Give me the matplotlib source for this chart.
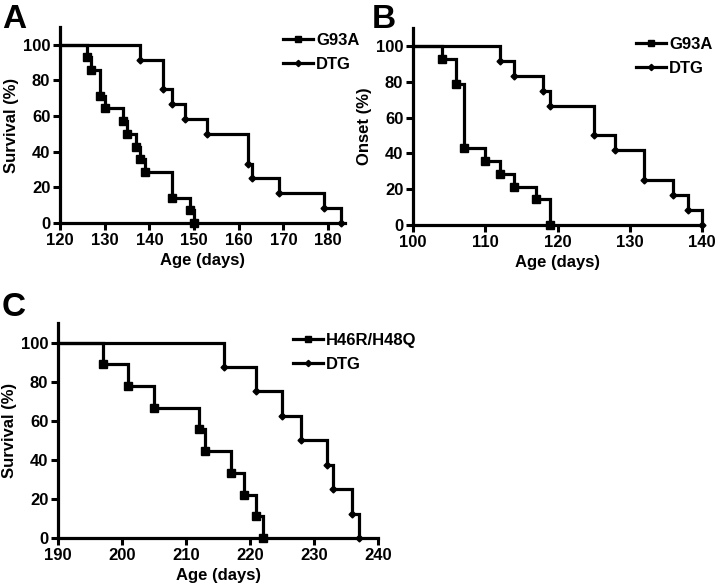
import matplotlib
matplotlib.use("Agg")
import matplotlib.pyplot as plt
from matplotlib.lines import Line2D

plt.rcParams['font.family'] = ['Liberation Sans', 'DejaVu Sans']
plt.rcParams['font.weight'] = 'bold'

# Panel A: survival, G93A vs DTG
a_g93a_days = [126, 127, 129, 130, 134, 135, 137, 138, 139, 145, 149, 150]
a_g93a_surv = [92.9, 85.7, 71.4, 64.3, 57.1, 50.0, 42.9, 35.7, 28.6, 14.3, 7.1, 0.0]
a_dtg_days = [138, 143, 145, 148, 153, 162, 163, 169, 179, 183]
a_dtg_surv = [91.7, 75.0, 66.7, 58.3, 50.0, 33.3, 25.0, 16.7, 8.3, 0.0]

# Panel B: onset, G93A vs DTG
b_g93a_days = [104, 106, 107, 110, 112, 114, 117, 119]
b_g93a_surv = [92.9, 78.6, 42.9, 35.7, 28.6, 21.4, 14.3, 0.0]
b_dtg_days = [112, 114, 118, 119, 125, 128, 132, 136, 138, 140]
b_dtg_surv = [91.7, 83.3, 75.0, 66.7, 50.0, 41.7, 25.0, 16.7, 8.3, 0.0]

# Panel C: survival, H46R/H48Q vs DTG
c_h46_days = [197, 201, 205, 212, 213, 217, 219, 221, 222]
c_h46_surv = [88.9, 77.8, 66.7, 55.6, 44.4, 33.3, 22.2, 11.1, 0.0]
c_dtg_days = [216, 221, 225, 228, 232, 233, 236, 237]
c_dtg_surv = [87.5, 75.0, 62.5, 50.0, 37.5, 25.0, 12.5, 0.0]

y_ticks = [0, 20, 40, 60, 80, 100]

fig = plt.figure(figsize=(7.2, 5.88), dpi=100)
W, H = 720, 588

def add_ax(l, r, t, b):
    return fig.add_axes([l / W, 1 - b / H, (r - l) / W, (b - t) / H])

LW = 2.3
FS = 12

def km(ax, x0, days, surv, marker, ms):
    xs = [x0] + days
    ys = [100.0] + surv
    ax.step(xs, ys, where='post', color='black', lw=LW, solid_joinstyle='miter', clip_on=False, zorder=3)
    ax.plot(days, surv, linestyle='none', marker=marker, ms=ms, color='black', clip_on=False, zorder=4)

def style(ax, xlim, xticks, ylabel):
    ax.set_xlim(*xlim)
    ax.set_ylim(0, 110)
    ax.set_xticks(xticks)
    ax.set_yticks(y_ticks)
    for s in ['top', 'right']:
        ax.spines[s].set_visible(False)
    for s in ['left', 'bottom']:
        ax.spines[s].set_linewidth(2.3)
    ax.tick_params(direction='out', length=5, width=2.2, labelsize=FS, pad=2)
    for lab in ax.get_xticklabels() + ax.get_yticklabels():
        lab.set_fontweight('bold')
    ax.set_xlabel('Age (days)', fontsize=FS, fontweight='bold', labelpad=4)
    ax.set_ylabel(ylabel, fontsize=FS, fontweight='bold', labelpad=3)

def legend(ax, labels, loc):
    handles = [Line2D([], [], color='black', lw=LW, marker='s', ms=5),
               Line2D([], [], color='black', lw=LW, marker='D', ms=3.2)]
    ax.legend(handles, labels, loc='upper left', bbox_to_anchor=loc, frameon=False,
              handlelength=1.8, handletextpad=0.2, labelspacing=0.55, borderaxespad=0,
              borderpad=0,
              prop={'family': 'Liberation Sans', 'weight': 'bold', 'size': FS})

# Panel A
axA = add_ax(60, 345, 27, 223)
km(axA, 120, a_g93a_days, a_g93a_surv, 's', 6)
km(axA, 120, a_dtg_days, a_dtg_surv, 'D', 3.5)
style(axA, (120, 183.8), [120, 130, 140, 150, 160, 170, 180], 'Survival (%)')
legend(axA, ['G93A', 'DTG'], ((283 - 60) / 285, 1 - (33 - 27) / 196))

# Panel B
axB = add_ax(413, 702, 28, 225)
km(axB, 100, b_g93a_days, b_g93a_surv, 's', 6)
km(axB, 100, b_dtg_days, b_dtg_surv, 'D', 3.5)
style(axB, (100, 140), [100, 110, 120, 130, 140], 'Onset (%)')
legend(axB, ['G93A', 'DTG'], ((636 - 413) / 289, 1 - (37 - 28) / 197))

# Panel C
axC = add_ax(58, 378, 323, 538)
km(axC, 190, c_h46_days, c_h46_surv, 's', 6)
km(axC, 190, c_dtg_days, c_dtg_surv, 'D', 3.5)
style(axC, (190, 240), [190, 200, 210, 220, 230, 240], 'Survival (%)')
legend(axC, ['H46R/H48Q', 'DTG'], ((293 - 58) / 320, 1 - (333 - 323) / 215))

fig.text(2 / W, 1 - 28 / H, 'A', fontsize=24, fontweight='bold')
fig.text(372 / W, 1 - 28 / H, 'B', fontsize=24, fontweight='bold')
fig.text(2 / W, 1 - 316 / H, 'C', fontsize=24, fontweight='bold')

fig.savefig('out.png', dpi=100)
